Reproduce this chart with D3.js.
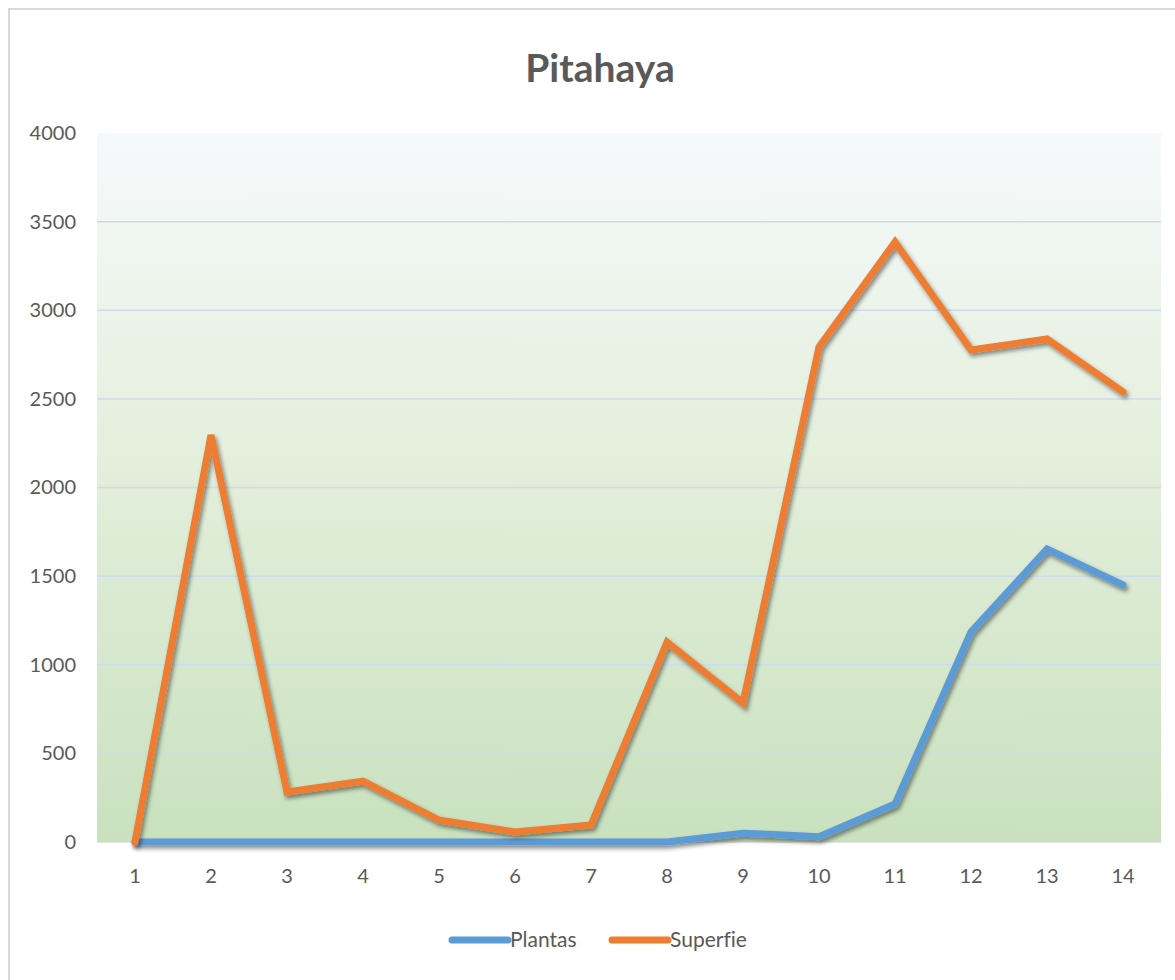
<!DOCTYPE html>
<html>
<head>
<meta charset="utf-8">
<script src="https://cdn.jsdelivr.net/npm/d3@7"></script>
<style>
  body { margin: 0; background: #fff; }
  text { font-family: Lato, "Open Sans", sans-serif; fill: #595959; font-variant-ligatures: none; }
</style>
</head>
<body>
<script>
// chart data
const categories = ['1', '2', '3', '4', '5', '6', '7', '8', '9', '10', '11', '12', '13', '14'];
const plantas = [0, 0, 0, 0, 0, 0, 0, 0, 50, 30, 214, 1185, 1653, 1450];
const superfie = [0, 2296, 282, 344, 124, 56, 96, 1128, 784, 2793, 3385, 2776, 2838, 2539];
const yTicks = [0, 500, 1000, 1500, 2000, 2500, 3000, 3500, 4000];
const seriesNames = ['Plantas', 'Superfie'];
const seriesColors = ['#5b9bd5', '#ed7d31'];

const width = 1175, height = 980;
const plot = { left: 97, right: 1161, top: 133, bottom: 842 };

const svg = d3.select('body').append('svg')
    .attr('width', width)
    .attr('height', height);

const defs = svg.append('defs');
const grad = defs.append('linearGradient').attr('id', 'bg')
    .attr('x1', 0).attr('y1', 0).attr('x2', 0).attr('y2', 1);
grad.append('stop').attr('offset', '0%').attr('stop-color', '#f6f9fc');
grad.append('stop').attr('offset', '45%').attr('stop-color', '#e4efdc');
grad.append('stop').attr('offset', '100%').attr('stop-color', '#c9e1bf');

const shadow = defs.append('filter').attr('id', 'shadow')
    .attr('x', '-5%').attr('y', '-5%').attr('width', '110%').attr('height', '115%');
shadow.append('feDropShadow')
    .attr('dx', 2).attr('dy', 3).attr('stdDeviation', 2)
    .attr('flood-color', '#000').attr('flood-opacity', 0.45);

// outer chart border
svg.append('rect')
    .attr('x', 9).attr('y', 9)
    .attr('width', 1180).attr('height', 990)
    .attr('fill', '#fff')
    .attr('stroke', '#d9d9d9').attr('stroke-width', 2);

// scales
const x = d3.scaleBand().domain(categories).range([plot.left, plot.right]);
const y = d3.scaleLinear().domain([0, 4000]).range([plot.bottom, plot.top]);

// plot background
svg.append('rect')
    .attr('x', plot.left).attr('y', plot.top)
    .attr('width', plot.right - plot.left).attr('height', plot.bottom - plot.top)
    .attr('fill', 'url(#bg)');

// gridlines
svg.append('g').selectAll('line').data(yTicks.filter(d => d > 0 && d < 4000)).enter()
    .append('line')
    .attr('x1', plot.left).attr('x2', plot.right)
    .attr('y1', d => y(d)).attr('y2', d => y(d))
    .attr('stroke', '#c9dcf0').attr('stroke-width', 1.5);

// x axis line
svg.append('line')
    .attr('x1', plot.left).attr('x2', plot.right)
    .attr('y1', plot.bottom).attr('y2', plot.bottom)
    .attr('stroke', '#d9d9d9').attr('stroke-width', 1.5);

// y axis labels
const yAxis = svg.append('g')
    .attr('transform', `translate(${plot.left - 21},0)`)
    .call(d3.axisLeft(y).tickValues(yTicks).tickFormat(d3.format('d')).tickSize(0).tickPadding(0));
yAxis.select('.domain').remove();
yAxis.selectAll('text')
    .style('font-size', '20px')
    .attr('fill', '#595959');

// x axis labels
const xAxis = svg.append('g')
    .attr('transform', `translate(0,${plot.bottom + 27})`)
    .call(d3.axisBottom(x).tickSize(0).tickPadding(0));
xAxis.select('.domain').remove();
xAxis.selectAll('text')
    .style('font-size', '20px')
    .attr('fill', '#595959');

// series lines
const line = d3.line()
    .x((d, i) => x(categories[i]) + x.bandwidth() / 2)
    .y(d => y(d));

[plantas, superfie].forEach((values, i) => {
    svg.append('path')
        .datum(values)
        .attr('d', line)
        .attr('fill', 'none')
        .attr('stroke', seriesColors[i])
        .attr('stroke-width', 7)
        .attr('stroke-linejoin', 'miter')
        .attr('stroke-linecap', 'round')
        .attr('filter', 'url(#shadow)');
});

// title
svg.append('text')
    .attr('x', 600).attr('y', 82)
    .attr('text-anchor', 'middle')
    .style('font-size', '39px')
    .style('font-weight', 'bold')
    .text('Pitahaya');

// legend
const legendX = [452, 612];
const legend = svg.append('g').selectAll('g').data(seriesNames).enter()
    .append('g')
    .attr('transform', (d, i) => `translate(${legendX[i]},940)`);
legend.append('line')
    .attr('x1', 0).attr('x2', 56)
    .attr('stroke', (d, i) => seriesColors[i])
    .attr('stroke-width', 7)
    .attr('stroke-linecap', 'round');
legend.append('text')
    .attr('x', 58).attr('y', 7)
    .style('font-size', '21px')
    .text(d => d);
</script>
</body>
</html>
